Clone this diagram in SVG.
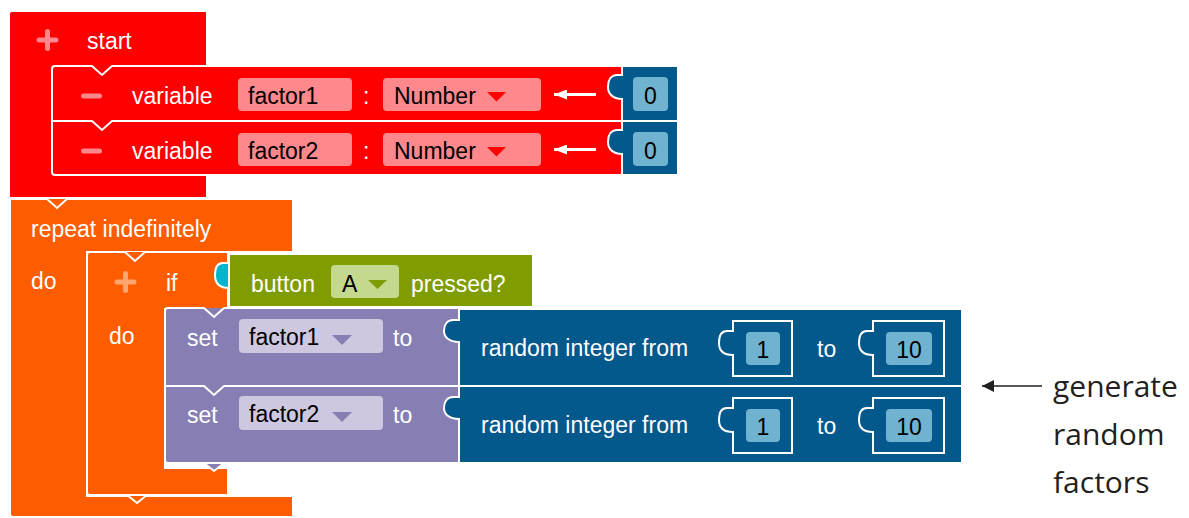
<svg xmlns="http://www.w3.org/2000/svg" width="1189" height="518" viewBox="0 0 1189 518">
<defs>
<style>
text{font-family:"Liberation Sans",Arial,sans-serif;font-size:23px}
.w{fill:#fff}
.k{fill:#000}
.ol{fill:none;stroke:#fff;stroke-width:2}
.sw{stroke:#fff;stroke-width:2}
.red{fill:#ff0000}
.org{fill:#fe5c00}
.grn{fill:#7f9c00}
.pur{fill:#877fb3}
.blu{fill:#03588c}
.pink{fill:#ff888d}
.lb{fill:#6fb3d0}
.ann{font-family:"Open Sans","Noto Sans",sans-serif;font-size:30px;fill:#231f20}
.icon{stroke-width:5;stroke-linecap:round;fill:none}
</style>
<marker id="wa" viewBox="0 0 13 10" refX="13" refY="5" markerWidth="13" markerHeight="10" markerUnits="userSpaceOnUse" orient="auto"><path d="M0,0 L13,5 L0,10 Z" fill="#fff"/></marker>
<marker id="ba" viewBox="0 0 12 12" refX="12" refY="6" markerWidth="12" markerHeight="12" markerUnits="userSpaceOnUse" orient="auto"><path d="M0,0 L12,6 L0,12 Z" fill="#231f20"/></marker>
</defs>
<rect width="1189" height="518" fill="#fff"/>

<g id="start">
<path class="red" d="M10,14 Q10,12 12,12 H206 V66 H52 V175 H206 V197 H10 Z"/>
<path class="icon" stroke="#ff888d" d="M39,40 H56 M47.5,31.5 V48.5"/>
<text x="87" y="49" class="w">start</text>
</g>

<g id="var-factor1">
<rect class="red" x="52" y="66" width="570" height="55"/>
<path class="ol" d="M52,121 V69 Q52,66 55,66 H92 L102,75 L112,66 H622"/>
<path class="icon" stroke="#ff888d" d="M83.5,96 H99.5"/>
<text x="132" y="104" class="w">variable</text>
<rect class="pink" x="238" y="78" width="114" height="33" rx="4"/>
<text x="248" y="104" class="k">factor1</text>
<text x="363" y="104" class="w">:</text>
<rect class="pink" x="383" y="78" width="158" height="33" rx="4"/>
<text x="394" y="104" class="k">Number</text>
<path d="M487,92 H506 L496.5,101.5 Z" fill="#ff0000"/>
<path d="M596,94.5 H554" stroke="#fff" stroke-width="3" marker-end="url(#wa)"/>
</g>

<g id="var-factor2">
<rect class="red" x="52" y="121" width="570" height="54"/>
<path class="ol" d="M52,121 V172 Q52,175 55,175 H622 M52,121 H92 L102,130 L112,121 H622"/>
<path class="icon" stroke="#ff888d" d="M83.5,151 H99.5"/>
<text x="132" y="159" class="w">variable</text>
<rect class="pink" x="238" y="133" width="114" height="33" rx="4"/>
<text x="248" y="159" class="k">factor2</text>
<text x="363" y="159" class="w">:</text>
<rect class="pink" x="383" y="133" width="158" height="33" rx="4"/>
<text x="394" y="159" class="k">Number</text>
<path d="M487,147 H506 L496.5,156.5 Z" fill="#ff0000"/>
<path d="M596,149.5 H554" stroke="#fff" stroke-width="3" marker-end="url(#wa)"/>
</g>

<g id="value0-1">
<path class="blu sw" d="M622,66 H678 V121 H622 V99 C612,99 608,93 608,87 C608,80 611,75 617,75 H622 Z"/>
<rect class="lb" x="633" y="77" width="35" height="34" rx="4"/>
<text x="650.5" y="104" class="k" text-anchor="middle">0</text>
</g>

<g id="value0-2">
<path class="blu sw" d="M622,121 H678 V175 H622 V154 C612,154 608,148 608,142 C608,135 611,130 617,130 H622 Z"/>
<rect class="lb" x="633" y="132" width="35" height="34" rx="4"/>
<text x="650.5" y="159" class="k" text-anchor="middle">0</text>
</g>

<g id="repeat">
<path class="org" d="M10,199 H293 V252 H87 V496 H293 V517 H13 Q10,517 10,514 Z"/>
<path class="ol" d="M10,514 V199 H47 L57,208 L67,199 H293 V252 H87 V496 H293 V517 H13 Q10,517 10,514"/>
<text x="31" y="237" class="w">repeat indefinitely</text>
<text x="31" y="289" class="w">do</text>
</g>

<g id="if">
<path class="org sw" d="M127,495 L137,503 L147,495 Z"/>
<path class="org" d="M87,252 H228 V308 H165 V468 H228 V495 H87 Z"/>
<path class="ol" d="M228,308 V252 H145 L135,261 L125,252 H90 Q87,252 87,255 V492 Q87,495 90,495 H228 V468 H165 V308"/>
<path class="icon" stroke="#ffa670" d="M117,282 H134 M125.5,273.5 V290.5"/>
<text x="166" y="291" class="w">if</text>
<text x="109" y="344" class="w">do</text>
<path class="sw" fill="#00b5cc" d="M229,263 H223 C217,263 215,268 215,275 C215,282 218,288 229,288"/>
</g>

<g id="button-pressed">
<rect class="grn sw" x="229" y="254" width="304" height="53"/>
<text x="251" y="292" class="w">button</text>
<rect x="331" y="265" width="68" height="33" rx="4" fill="#c5d98e"/>
<text x="342" y="292" class="k">A</text>
<path d="M368,280 H387 L377.5,289 Z" fill="#7f9c00"/>
<text x="411" y="292" class="w">pressed?</text>
</g>

<g id="set-factor1">
<rect class="pur" x="165" y="308" width="293" height="78"/>
<path class="ol" d="M165,386 V311 Q165,308 168,308 H204 L214,317 L224,308 H458"/>
<text x="187" y="346" class="w">set</text>
<rect x="239" y="319" width="144" height="34" rx="4" fill="#cdc8df"/>
<text x="249" y="345" class="k">factor1</text>
<path d="M332,335 H352 L342,345 Z" fill="#877fb3"/>
<text x="393" y="346" class="w">to</text>
</g>

<g id="set-factor2">
<path class="pur sw" d="M204,463 L214,471 L224,463 Z"/>
<rect class="pur" x="165" y="386" width="293" height="77"/>
<path class="ol" d="M165,386 H204 L214,395 L224,386 H458 M165,386 V460 Q165,463 168,463 H458"/>
<text x="187" y="423" class="w">set</text>
<rect x="239" y="396" width="144" height="34" rx="4" fill="#cdc8df"/>
<text x="249" y="422" class="k">factor2</text>
<path d="M332,412 H352 L342,422 Z" fill="#877fb3"/>
<text x="393" y="423" class="w">to</text>
</g>

<g id="random1">
<path class="blu sw" d="M459,309 H962 V386 H459 V342 C449,342 444,337 444,331 C444,325 447,320 453,320 H459 Z"/>
<text x="481" y="356" class="w">random integer from</text>
<path class="ol" d="M733,321 H792 V376 H733 V355 C723,355 719,350 719,343 C719,336 721,331 727,331 H733 Z"/>
<rect class="lb" x="746" y="332" width="34" height="33" rx="4"/>
<text x="763" y="358" class="k" text-anchor="middle">1</text>
<text x="817" y="357" class="w">to</text>
<path class="ol" d="M873,321 H944 V376 H873 V355 C863,355 859,350 859,343 C859,336 861,331 867,331 H873 Z"/>
<rect class="lb" x="886" y="332" width="46" height="33" rx="4"/>
<text x="909" y="358" class="k" text-anchor="middle">10</text>
</g>

<g id="random2">
<path class="blu sw" d="M459,386 H962 V463 H459 V419 C449,419 444,414 444,408 C444,402 447,397 453,397 H459 Z"/>
<text x="481" y="433" class="w">random integer from</text>
<path class="ol" d="M733,398 H792 V453 H733 V432 C723,432 719,427 719,420 C719,413 721,408 727,408 H733 Z"/>
<rect class="lb" x="746" y="409" width="34" height="33" rx="4"/>
<text x="763" y="435" class="k" text-anchor="middle">1</text>
<text x="817" y="434" class="w">to</text>
<path class="ol" d="M873,398 H944 V453 H873 V432 C863,432 859,427 859,420 C859,413 861,408 867,408 H873 Z"/>
<rect class="lb" x="886" y="409" width="46" height="33" rx="4"/>
<text x="909" y="435" class="k" text-anchor="middle">10</text>
</g>

<g id="annotation">
<text x="1053" y="397" class="ann">generate</text>
<text x="1053" y="445" class="ann">random</text>
<text x="1053" y="493" class="ann">factors</text>
</g>

<g id="connectors">
<path d="M1042,386 H982" stroke="#231f20" stroke-width="1.6" fill="none" marker-end="url(#ba)"/>
</g>
</svg>
